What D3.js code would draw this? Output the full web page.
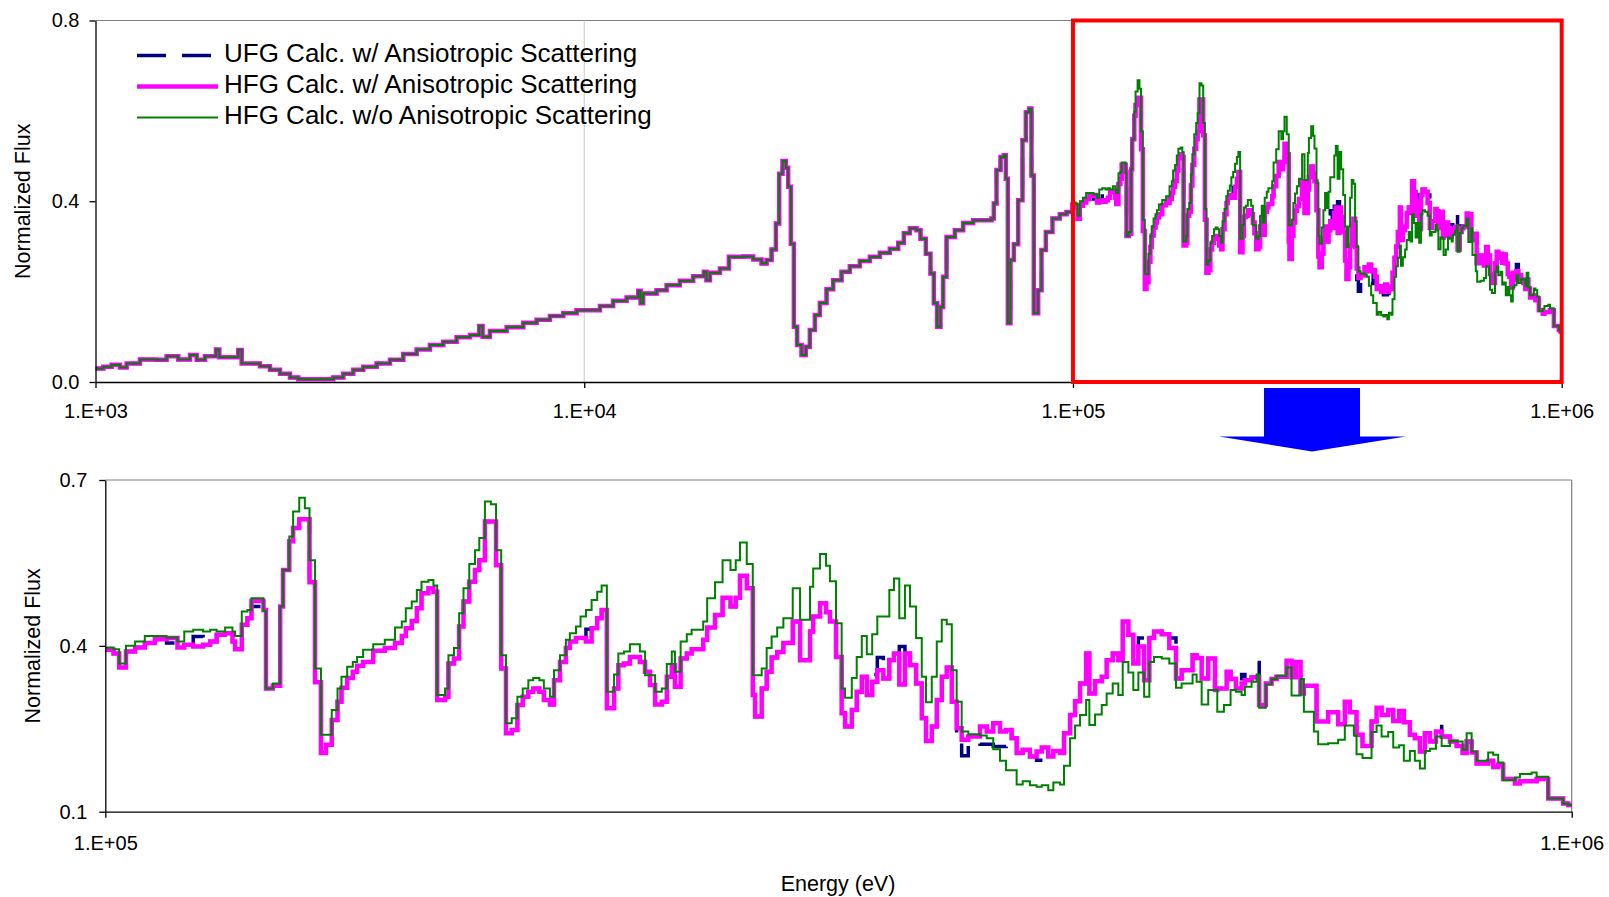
<!DOCTYPE html>
<html>
<head>
<meta charset="utf-8">
<script src="https://cdn.jsdelivr.net/npm/d3@7/dist/d3.min.js"></script>
<style>
  body { margin: 0; background: #fff; }
  svg text { font-family: Arial, "Liberation Sans", sans-serif; fill: #000; }
</style>
</head>
<body>
<div id="app"></div>
<script>
// ---- data (energy in keV, flux normalized) ----

// 1 keV .. 100 keV : the three calculations lie on top of each other here
const lowEnergyKeV = [1.000, 1.038, 1.079, 1.122, 1.158, 1.233, 1.334, 1.398, 1.477, 1.561,
  1.611, 1.675, 1.764, 1.792, 1.945, 1.960, 1.991, 2.170, 2.275, 2.385,
  2.500, 2.600, 2.925, 3.066, 3.214, 3.369, 3.531, 3.760, 4.004, 4.264,
  4.540, 4.834, 5.148, 5.481, 5.837, 6.099, 6.195, 6.413, 6.938, 7.504,
  7.991, 8.508, 9.059, 9.646, 10.03, 10.77, 11.46, 12.21, 12.90, 13.04,
  13.20, 14.06, 14.74, 15.69, 16.71, 17.57, 17.79, 18.08, 18.95, 19.77,
  21.15, 22.17, 23.06, 23.61, 24.17, 24.67, 25.06, 25.45, 25.86, 26.14,
  26.47, 26.85, 27.27, 27.84, 28.41, 28.95, 29.64, 30.35, 31.32, 32.32,
  33.61, 34.95, 36.64, 38.41, 40.26, 42.20, 43.90, 45.08, 46.37, 47.85,
  48.76, 50.00, 51.11, 51.92, 52.74, 53.57, 54.25, 55.12, 57.33, 59.62,
  62.50, 68.12, 68.87, 69.75, 71.08, 72.20, 72.88, 73.58, 74.51, 75.69,
  77.25, 78.84, 80.09, 81.36, 82.25, 83.15, 84.88, 86.22, 88.00, 90.80,
  94.00, 97.01, 99.70];
const lowFlux = [0.030, 0.034, 0.038, 0.032, 0.041, 0.050, 0.049, 0.057, 0.050, 0.060,
  0.049, 0.057, 0.072, 0.055, 0.055, 0.071, 0.041, 0.035, 0.027, 0.018,
  0.010, 0.006, 0.006, 0.010, 0.018, 0.027, 0.034, 0.041, 0.049, 0.062,
  0.072, 0.082, 0.089, 0.099, 0.104, 0.124, 0.100, 0.113, 0.121, 0.131,
  0.138, 0.146, 0.152, 0.159, 0.159, 0.168, 0.180, 0.187, 0.202, 0.174,
  0.196, 0.203, 0.214, 0.224, 0.234, 0.244, 0.225, 0.242, 0.251, 0.277,
  0.278, 0.271, 0.262, 0.270, 0.293, 0.351, 0.461, 0.489, 0.474, 0.432,
  0.306, 0.122, 0.082, 0.060, 0.078, 0.115, 0.148, 0.175, 0.205, 0.225,
  0.244, 0.256, 0.268, 0.277, 0.286, 0.295, 0.308, 0.329, 0.340, 0.336,
  0.317, 0.284, 0.240, 0.174, 0.122, 0.166, 0.233, 0.321, 0.336, 0.352,
  0.358, 0.362, 0.395, 0.469, 0.498, 0.502, 0.450, 0.130, 0.270, 0.305,
  0.402, 0.535, 0.597, 0.605, 0.457, 0.152, 0.203, 0.292, 0.332, 0.362,
  0.371, 0.376, 0.393];

// 100 keV .. 1 MeV : group starts (last entry closes the final group)
const highEnergyKeV = [100.0, 101.3, 102.2, 103.3, 104.8, 106.4, 108.1, 110.1, 112.0, 113.2,
  114.8, 116.6, 117.9, 119.1, 120.7, 122.1, 122.6, 123.9, 125.0, 125.8,
  128.2, 128.7, 130.1, 131.6, 132.2, 133.5, 134.3, 135.6, 136.8, 137.8,
  139.0, 140.3, 141.4, 142.7, 144.0, 144.9, 146.2, 147.5, 148.5, 149.9,
  152.3, 155.1, 157.6, 159.3, 160.3, 161.8, 163.1, 164.3, 166.1, 167.4,
  168.4, 170.5, 171.4, 172.9, 174.3, 175.5, 177.1, 178.7, 179.9, 181.5,
  183.2, 184.7, 186.2, 187.6, 189.3, 191.0, 192.6, 194.3, 195.8, 197.7,
  199.1, 201.0, 202.3, 204.2, 206.1, 207.4, 209.4, 210.9, 212.7, 214.6,
  216.5, 218.0, 219.8, 222.3, 223.8, 225.8, 227.9, 231.5, 233.4, 235.2,
  237.1, 239.6, 241.5, 243.4, 244.6, 246.8, 249.2, 251.1, 255.7, 257.3,
  260.5, 263.6, 266.9, 269.1, 270.9, 273.8, 276.4, 277.4, 280.3, 282.5,
  284.7, 287.2, 290.0, 294.3, 297.7, 302.4, 303.9, 307.2, 310.1, 312.0,
  315.0, 317.8, 319.5, 322.9, 325.4, 328.0, 330.6, 333.4, 336.1, 339.3,
  342.5, 345.0, 347.9, 351.0, 353.8, 357.2, 360.4, 362.8, 366.1, 369.0,
  371.9, 374.8, 377.8, 380.7, 383.7, 387.7, 394.9, 399.1, 403.2, 407.5,
  411.4, 415.0, 418.3, 422.3, 427.1, 431.6, 435.1, 439.6, 443.1, 447.8,
  450.6, 454.9, 458.5, 462.1, 466.5, 468.9, 473.1, 478.1, 481.8, 486.4,
  490.7, 494.1, 498.5, 502.4, 506.4, 511.0, 515.2, 519.0, 525.3, 531.6,
  537.2, 542.0, 551.4, 554.9, 559.3, 565.1, 571.1, 573.2, 579.2, 581.7,
  585.3, 590.2, 595.5, 598.6, 604.9, 609.7, 612.2, 618.6, 624.2, 629.1,
  639.1, 644.1, 648.5, 653.3, 656.7, 667.1, 669.9, 671.6, 682.2, 693.0,
  700.3, 705.8, 710.3, 713.3, 720.0, 730.3, 736.1, 741.9, 749.7, 755.6,
  762.7, 768.3, 775.6, 781.7, 787.9, 794.1, 800.4, 808.0, 815.3, 826.0,
  834.7, 842.6, 847.9, 854.6, 861.3, 877.1, 884.0, 891.0, 898.0, 914.7,
  921.9, 939.0, 946.4, 963.8, 986.7, 994.5, 1000.0];

// HFG Calc. w/o Anisotropic Scattering (green)
const hfgNoAniso = [.397, .394, .368, .400, .408, .418, .418, .415, .408, .426,
  .429, .426, .429, .426, .433, .426, .418, .462, .465, .486,
  .463, .323, .332, .471, .537, .598, .643, .668, .649, .555,
  .359, .239, .239, .284, .323, .344, .362, .371, .380, .393,
  .403, .411, .433, .444, .468, .480, .501, .516, .519, .509,
  .311, .323, .383, .396, .459, .504, .548, .573, .595, .661,
  .656, .573, .383, .260, .269, .308, .323, .338, .342, .338,
  .323, .308, .356, .383, .411, .423, .435, .453, .465, .483,
  .498, .509, .317, .348, .386, .390, .403, .390, .347, .347,
  .317, .323, .367, .390, .353, .408, .421, .429, .444, .486,
  .515, .555, .537, .555, .587, .548, .347, .347, .359, .396,
  .417, .433, .450, .504, .447, .507, .540, .566, .545, .517,
  .441, .323, .306, .342, .380, .418, .385, .421, .453, .453,
  .501, .522, .450, .509, .471, .414, .344, .298, .344, .408,
  .447, .439, .356, .299, .245, .240, .238, .233, .213, .192,
  .175, .175, .149, .155, .148, .145, .148, .139, .153, .149,
  .183, .233, .256, .275, .302, .257, .276, .293, .314, .332,
  .311, .371, .352, .320, .352, .308, .371, .380, .377, .368,
  .324, .332, .348, .335, .294, .320, .320, .281, .293, .293,
  .320, .317, .311, .326, .335, .348, .288, .330, .340, .346,
  .361, .310, .310, .340, .281, .245, .245, .222, .224, .230,
  .256, .256, .238, .204, .197, .244, .256, .236, .244, .216,
  .220, .192, .210, .192, .178, .210, .214, .236, .219, .228,
  .227, .212, .242, .209, .192, .207, .203, .189, .157, .162,
  .168, .171, .163, .124, .115, .112, .112];

// HFG Calc. w/ Anisotropic Scattering (magenta)
const hfgAniso = [.393, .386, .361, .390, .397, .405, .412, .414, .397, .402,
  .399, .402, .408, .420, .423, .408, .394, .438, .450, .481,
  .465, .323, .328, .471, .537, .589, .613, .629, .629, .515,
  .334, .206, .221, .266, .299, .324, .342, .353, .364, .371,
  .391, .396, .405, .418, .432, .445, .468, .495, .504, .498,
  .302, .308, .368, .377, .435, .480, .516, .537, .555, .625,
  .625, .546, .359, .242, .248, .293, .308, .317, .323, .317,
  .302, .294, .338, .371, .396, .408, .414, .414, .408, .432,
  .450, .465, .287, .323, .365, .368, .380, .371, .353, .329,
  .294, .299, .344, .365, .326, .377, .386, .394, .411, .433,
  .456, .487, .471, .487, .527, .504, .311, .272, .323, .353,
  .379, .389, .405, .444, .374, .426, .453, .477, .461, .444,
  .380, .278, .254, .284, .317, .344, .311, .335, .356, .341,
  .374, .386, .330, .386, .365, .332, .269, .228, .254, .302,
  .344, .361, .299, .251, .230, .236, .254, .245, .260, .245,
  .248, .233, .206, .212, .200, .209, .216, .200, .210, .206,
  .242, .275, .300, .332, .386, .314, .336, .344, .374, .386,
  .374, .444, .420, .368, .399, .338, .414, .426, .421, .396,
  .341, .356, .383, .378, .341, .377, .320, .323, .323, .353,
  .340, .323, .332, .338, .343, .343, .293, .332, .340, .344,
  .373, .343, .371, .314, .328, .328, .263, .263, .280, .258,
  .299, .280, .280, .239, .219, .263, .288, .275, .284, .264,
  .282, .262, .239, .233, .209, .242, .227, .245, .236, .227,
  .219, .206, .227, .207, .187, .192, .181, .185, .159, .151,
  .155, .155, .159, .124, .115, .112, .112];

// UFG Calc. w/ Ansiotropic Scattering (navy, dashed)
const ufgAniso = [.393, .386, .361, .390, .397, .405, .412, .405, .397, .402,
  .417, .402, .408, .420, .423, .408, .394, .438, .450, .471,
  .465, .323, .328, .471, .537, .589, .613, .629, .629, .515,
  .334, .206, .221, .266, .299, .324, .342, .353, .364, .371,
  .391, .396, .405, .418, .432, .445, .468, .495, .504, .498,
  .302, .308, .368, .377, .435, .480, .516, .537, .555, .625,
  .625, .546, .359, .242, .248, .293, .308, .317, .323, .317,
  .302, .294, .338, .371, .396, .408, .414, .414, .430, .432,
  .450, .465, .287, .323, .365, .368, .380, .371, .353, .329,
  .294, .299, .344, .365, .326, .377, .386, .394, .411, .433,
  .456, .487, .471, .487, .527, .504, .311, .272, .323, .353,
  .379, .389, .405, .444, .374, .426, .453, .477, .461, .444,
  .380, .278, .254, .284, .317, .344, .311, .348, .379, .341,
  .389, .386, .399, .386, .365, .332, .269, .228, .254, .302,
  .344, .361, .299, .227, .201, .225, .222, .222, .218, .218,
  .248, .233, .206, .212, .200, .193, .193, .196, .210, .206,
  .242, .275, .300, .332, .386, .314, .336, .344, .374, .386,
  .374, .444, .420, .368, .414, .338, .414, .426, .421, .414,
  .341, .356, .383, .378, .341, .377, .320, .323, .323, .353,
  .340, .323, .348, .338, .343, .370, .293, .345, .340, .344,
  .373, .343, .371, .314, .328, .328, .263, .263, .280, .258,
  .299, .280, .280, .239, .219, .263, .288, .275, .284, .264,
  .282, .262, .239, .233, .209, .242, .227, .260, .236, .227,
  .219, .206, .227, .207, .187, .192, .181, .185, .159, .151,
  .155, .155, .159, .124, .115, .112, .112];

const legendLabels = ["UFG Calc. w/ Ansiotropic Scattering",
  "HFG Calc. w/ Anisotropic Scattering",
  "HFG Calc. w/o Anisotropic Scattering"];
const topYTicks = [0, 0.4, 0.8];
const topXTicks = [1e3, 1e4, 1e5, 1e6];
const bottomYTicks = [0.1, 0.4, 0.7];
const bottomXTicks = [1e5, 1e6];

// ---- build series (energy in eV) ----
function buildSeries(highVals) {
  const pts = lowEnergyKeV.map((e, i) => ({ e: e * 1000, v: lowFlux[i] }));
  highEnergyKeV.forEach((e, i) => pts.push({ e: e * 1000, v: highVals[i] }));
  return pts;
}

const series = [
  { pts: buildSeries(ufgAniso), color: "#000080", width: 3.5, dash: "29,16" },
  { pts: buildSeries(hfgAniso), color: "#ff00ff", width: 4.5, dash: null },
  { pts: buildSeries(hfgNoAniso), color: "#008000", width: 2, dash: null }
];

const svg = d3.select("#app")
  .append("svg")
  .attr("width", 1609)
  .attr("height", 897);

const expFormat = d => "1.E+0" + Math.round(Math.log10(d));

function drawPanel(p) {
  const x = d3.scaleLog().domain(p.xDomain).range([p.left, p.right]);
  const y = d3.scaleLinear().domain(p.yDomain).range([p.bottom, p.top]);
  const g = svg.append("g");

  // frame (top / right in grey), plus vertical gridlines
  g.append("line")
    .attr("x1", p.left).attr("x2", p.right)
    .attr("y1", p.top).attr("y2", p.top)
    .attr("stroke", "#808080").attr("stroke-width", 1.2);
  g.append("line")
    .attr("x1", p.right).attr("x2", p.right)
    .attr("y1", p.top).attr("y2", p.bottom)
    .attr("stroke", "#808080").attr("stroke-width", 1.2);
  g.selectAll(".grid")
    .data(p.gridX)
    .enter()
    .append("line")
    .attr("x1", d => x(d)).attr("x2", d => x(d))
    .attr("y1", p.top).attr("y2", p.bottom)
    .attr("stroke", "#c8c8c8").attr("stroke-width", 1);

  svg.append("clipPath").attr("id", "clip" + p.id)
    .append("rect")
    .attr("x", p.left).attr("y", p.top - 6)
    .attr("width", p.right - p.left + 4)
    .attr("height", p.bottom - p.top + 6);

  const line = d3.line()
    .curve(d3.curveStepAfter)
    .x(d => x(d.e))
    .y(d => y(d.v));

  series.forEach(s => {
    g.append("path")
      .datum(s.pts.filter(d => d.e >= p.xDomain[0]))
      .attr("d", line)
      .attr("clip-path", "url(#clip" + p.id + ")")
      .attr("fill", "none")
      .attr("stroke", s.color)
      .attr("stroke-width", s.width)
      .attr("stroke-dasharray", s.dash)
      .attr("stroke-linejoin", "miter");
  });

  // axes
  const ya = g.append("g")
    .attr("transform", `translate(${p.left},0)`)
    .call(d3.axisLeft(y).tickValues(p.yTicks).tickFormat(d3.format(".1f"))
      .tickSize(6).tickSizeOuter(0).tickPadding(p.yPad));
  const xa = g.append("g")
    .attr("transform", `translate(0,${p.bottom})`)
    .call(d3.axisBottom(x).tickValues(p.xTicks).tickFormat(expFormat)
      .tickSize(6).tickSizeOuter(0).tickPadding(p.xPad));
  [ya, xa].forEach(a => {
    a.attr("font-size", 20).attr("font-family", null);
    a.selectAll("path, line").attr("stroke", "#000").attr("stroke-width", 1.3);
  });

  g.append("text")
    .attr("transform", `translate(${p.titleX},${(p.top + p.bottom) / 2}) rotate(-90)`)
    .attr("text-anchor", "middle")
    .attr("dy", "0.35em")
    .attr("font-size", 21.5)
    .text("Normalized Flux");

  return { x, y };
}

const topPanel = drawPanel({
  id: "top", left: 95.5, right: 1561.7, top: 20.5, bottom: 382,
  xDomain: [1e3, 1e6], yDomain: [0, 0.8],
  xTicks: topXTicks, yTicks: topYTicks, gridX: [1e4],
  yPad: 10, xPad: 16, titleX: 22.5
});

const bottomPanel = drawPanel({
  id: "bot", left: 105.3, right: 1571.7, top: 480, bottom: 811.7,
  xDomain: [1e5, 1e6], yDomain: [0.1, 0.7],
  xTicks: bottomXTicks, yTicks: bottomYTicks, gridX: [],
  yPad: 12, xPad: 18, titleX: 32.3
});

svg.append("text")
  .attr("x", 838).attr("y", 883)
  .attr("dy", "0.35em")
  .attr("text-anchor", "middle")
  .attr("font-size", 21.5)
  .text("Energy (eV)");

// legend inside the upper panel
const legend = svg.append("g");
series.forEach((s, i) => {
  const ly = 55.5 + i * 31;
  legend.append("line")
    .attr("x1", 137).attr("x2", 218)
    .attr("y1", ly).attr("y2", ly)
    .attr("stroke", s.color)
    .attr("stroke-width", s.width)
    .attr("stroke-dasharray", s.dash);
  legend.append("text")
    .attr("x", 224).attr("y", ly + 6.5)
    .attr("font-size", 26)
    .text(legendLabels[i]);
});

// red box marking the zoomed decade
svg.append("rect")
  .attr("x", topPanel.x(1e5)).attr("y", topPanel.y(0.8))
  .attr("width", topPanel.x(1e6) - topPanel.x(1e5))
  .attr("height", topPanel.y(0) - topPanel.y(0.8))
  .attr("fill", "none")
  .attr("stroke", "#ff0000")
  .attr("stroke-width", 4);

// blue arrow pointing down to the lower panel
const ax = 1312;
svg.append("polygon")
  .attr("points", [
    [ax - 48, 388], [ax + 48, 388], [ax + 48, 436.5], [ax + 94, 436.5],
    [ax, 451.5], [ax - 93, 436.5], [ax - 48, 436.5]
  ].map(p => p.join(",")).join(" "))
  .attr("fill", "#0000ff");
</script>
</body>
</html>
